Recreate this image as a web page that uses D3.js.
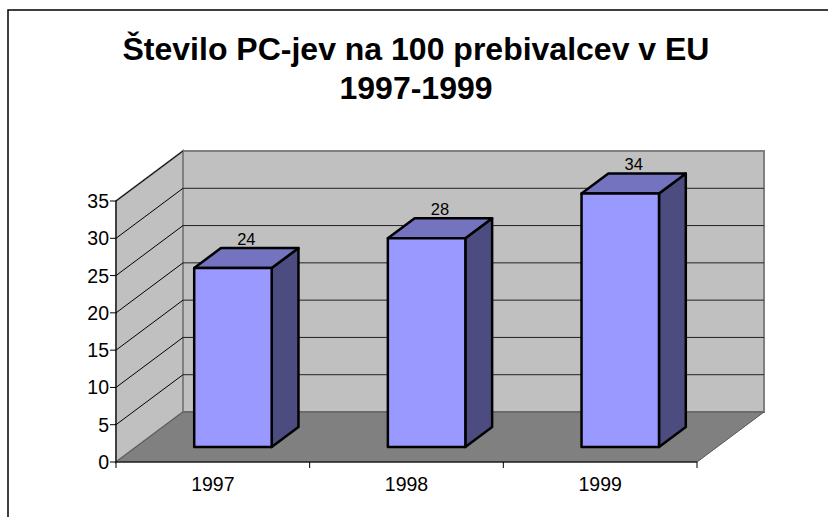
<!DOCTYPE html>
<head>
<meta charset="utf-8">
<style>
body { margin: 0; background: #fff; }
text { font-family: "Liberation Sans", Arial, sans-serif; fill: #000; }
</style>
</head>
<body>
<svg width="828" height="517"></svg>
<script src="https://d3js.org/d3.v7.min.js"></script>
<script>
var titleLines = ["Število PC-jev na 100 prebivalcev v EU", "1997-1999"];
var years = ["1997", "1998", "1999"];
var pcs = [24, 28, 34];
var yTicks = [0, 5, 10, 15, 20, 25, 30, 35];

var svg = d3.select("svg");

// front plane of the plot and the depth vector of the 3d box
var plotL = 116, plotR = 697, plotB = 462, plotT = 201;
var DX = 67, DY = -50;

var x = d3.scaleBand().domain(years).range([plotL, plotR]);
var y = d3.scaleLinear().domain([0, 35]).range([plotB, plotT]);

// project a point at plot position (px, py) pushed back by depth d (0..1)
function p(px, py, d) { return [px + d * DX, py + d * DY]; }
function poly(pts) { return "M" + pts.map(function(q) { return q.join(","); }).join("L") + "Z"; }

// outer chart border
svg.append("rect")
    .attr("x", 8).attr("y", 10)
    .attr("width", 840).attr("height", 540)
    .attr("fill", "none").attr("stroke", "#000").attr("stroke-width", 1.5);

// title
svg.append("g").selectAll("text")
  .data(titleLines)
  .enter().append("text")
    .attr("x", 416)
    .attr("y", function(d, i) { return 60 + i * 39; })
    .attr("text-anchor", "middle")
    .style("font-size", "32px")
    .style("font-weight", "bold")
    .text(function(d) { return d; });

var y0 = y(0), yMax = y(35);

// back wall
svg.append("path")
    .attr("d", poly([p(plotL, yMax, 1), p(plotR, yMax, 1), p(plotR, y0, 1), p(plotL, y0, 1)]))
    .attr("fill", "#c0c0c0").attr("stroke", "#808080").attr("stroke-width", 2);

// left wall
svg.append("path")
    .attr("d", poly([p(plotL, y0, 0), p(plotL, yMax, 0), p(plotL, yMax, 1), p(plotL, y0, 1)]))
    .attr("fill", "#c0c0c0").attr("stroke", "#808080").attr("stroke-width", 2);

// floor
svg.append("path")
    .attr("d", poly([p(plotL, y0, 0), p(plotR, y0, 0), p(plotR, y0, 1), p(plotL, y0, 1)]))
    .attr("fill", "#808080").attr("stroke", "#555").attr("stroke-width", 1);

// gridlines on back wall and left wall
var grid = yTicks.filter(function(v) { return v > 0 && v < 35; });
svg.append("g").selectAll("line")
  .data(grid)
  .enter().append("line")
    .attr("x1", function(v) { return p(plotL, y(v), 1)[0]; })
    .attr("y1", function(v) { return p(plotL, y(v), 1)[1]; })
    .attr("x2", function(v) { return p(plotR, y(v), 1)[0]; })
    .attr("y2", function(v) { return p(plotR, y(v), 1)[1]; })
    .attr("stroke", "#222").attr("stroke-width", 1);

svg.append("g").selectAll("line")
  .data(yTicks.filter(function(v) { return v > 0; }))
  .enter().append("line")
    .attr("x1", plotL).attr("y1", function(v) { return y(v); })
    .attr("x2", function(v) { return p(plotL, y(v), 1)[0]; })
    .attr("y2", function(v) { return p(plotL, y(v), 1)[1]; })
    .attr("stroke", "#000").attr("stroke-width", 1);

// value axis
var yAxis = svg.append("g");
yAxis.append("line")
    .attr("x1", plotL).attr("x2", plotL).attr("y1", y0).attr("y2", yMax)
    .attr("stroke", "#000").attr("stroke-width", 1);
var yt = yAxis.selectAll("g").data(yTicks).enter().append("g")
    .attr("transform", function(v) { return "translate(0," + y(v) + ")"; });
yt.append("line").attr("x1", plotL - 6).attr("x2", plotL).attr("stroke", "#000");
yt.append("text")
    .attr("x", plotL - 7).attr("dy", "0.36em")
    .attr("text-anchor", "end")
    .style("font-size", "19.5px")
    .text(function(v) { return v; });

// category axis
var xAxis = svg.append("g");
xAxis.append("line")
    .attr("x1", plotL).attr("x2", plotR).attr("y1", y0).attr("y2", y0)
    .attr("stroke", "#000").attr("stroke-width", 1.2);
xAxis.selectAll("line.tick")
  .data(years.map(function(c) { return x(c); }).concat([plotR]))
  .enter().append("line")
    .attr("class", "tick")
    .attr("x1", function(d) { return d; }).attr("x2", function(d) { return d; })
    .attr("y1", y0).attr("y2", y0 + 6)
    .attr("stroke", "#000");
xAxis.selectAll("text")
  .data(years)
  .enter().append("text")
    .attr("x", function(c) { return x(c) + x.bandwidth() / 2; })
    .attr("y", 491)
    .attr("text-anchor", "middle")
    .style("font-size", "19.5px")
    .text(function(c) { return c; });

// 3d bars
var d0 = 0.3, d1 = 0.7, barW = x.bandwidth() * 0.4;
var bars = svg.append("g").selectAll("g")
  .data(years.map(function(c, i) { return {cat: c, value: pcs[i]}; }))
  .enter().append("g");

function bx(d) { return x(d.cat) + (x.bandwidth() - barW) / 2; }

bars.append("path")   // right side
    .attr("d", function(d) {
      var xr = bx(d) + barW, yv = y(d.value);
      return poly([p(xr, y0, d0), p(xr, yv, d0), p(xr, yv, d1), p(xr, y0, d1)]);
    })
    .attr("fill", "#4c4c80").attr("stroke", "#000").attr("stroke-width", 2.5)
    .attr("stroke-linejoin", "round");

bars.append("path")   // top
    .attr("d", function(d) {
      var xl = bx(d), yv = y(d.value);
      return poly([p(xl, yv, d0), p(xl + barW, yv, d0), p(xl + barW, yv, d1), p(xl, yv, d1)]);
    })
    .attr("fill", "#7373bf").attr("stroke", "#000").attr("stroke-width", 2.5)
    .attr("stroke-linejoin", "round");

bars.append("path")   // front
    .attr("d", function(d) {
      var xl = bx(d), yv = y(d.value);
      return poly([p(xl, y0, d0), p(xl + barW, y0, d0), p(xl + barW, yv, d0), p(xl, yv, d0)]);
    })
    .attr("fill", "#9999ff").attr("stroke", "#000").attr("stroke-width", 2.5)
    .attr("stroke-linejoin", "round");

bars.append("text")
    .attr("x", function(d) { return p(bx(d) + barW / 2, y(d.value), (d0 + d1) / 2)[0]; })
    .attr("y", function(d) { return p(0, y(d.value), d1)[1] - 3; })
    .attr("text-anchor", "middle")
    .style("font-size", "16.5px")
    .text(function(d) { return d.value; });
</script>
</body>
